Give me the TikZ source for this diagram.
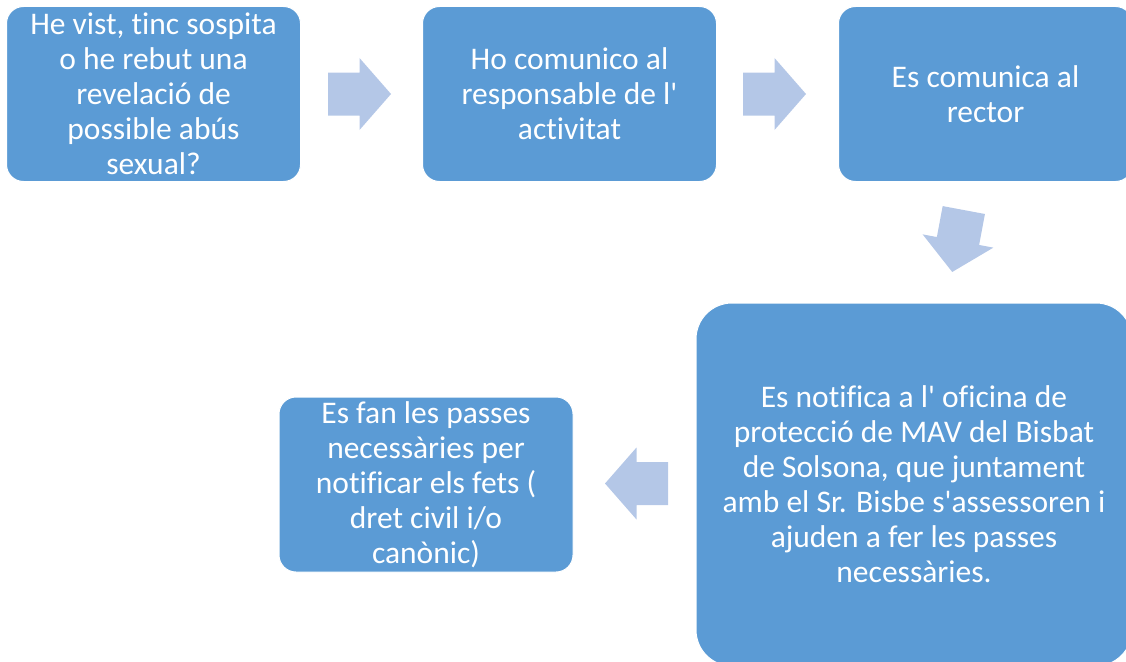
\documentclass[tikz,border=0pt]{standalone}
\usepackage{fontspec}
\setmainfont{Carlito}[Ligatures=NoCommon]
\usetikzlibrary{positioning}
\definecolor{boxblue}{HTML}{5B9BD5}
\definecolor{arrowblue}{HTML}{B4C7E7}

\begin{document}
\begin{tikzpicture}[
  x=1pt, y=1pt,
  font=\fontsize{31.5}{35}\selectfont,
  stepbox/.style={fill=boxblue, draw=white, line width=1pt, text=white, align=center,
    rounded corners=17pt, minimum width=294pt, minimum height=175pt, inner sep=0pt, outer sep=0pt},
  blkarrow/.pic={\fill[arrowblue] (-31.5,21.5) -- (0,21.5) -- (0,36) -- (31.5,0)
    -- (0,-36) -- (0,-21.5) -- (-31.5,-21.5) -- cycle;},
]
\clip (0,0) rectangle (1126,-661);
% top row
\node[stepbox] (seen) at (153.5,-94) {He vist, tinc sospita\\o he rebut una\\revelació de\\possible abús\\sexual?};
\node[stepbox, right=122pt of seen] (report) {Ho comunico al\\responsable de l\textquotesingle\\activitat};
\node[stepbox, right=122pt of report] (rector) {Es comunica al\\rector};
% bottom row
\node[stepbox, minimum width=436pt, minimum height=363pt, rounded corners=36pt] (notify) at (914,-484.5)
  {Es notifica a l\textquotesingle{} oficina de\\protecció de MAV del Bisbat\\de Solsona, que juntament\\amb el Sr. Bisbe s\textquotesingle assessoren i\\ajuden a fer les passes\\necessàries.};
\node[stepbox, left=123pt of notify] (steps) {Es fan les passes\\necessàries per\\notificar els fets (\\dret civil i/o\\canònic)};
% block arrows
\pic at (359.5,-94) {blkarrow};
\pic at (774.5,-94) {blkarrow};
\pic[rotate=-100.6] at (958,-241) {blkarrow};
\pic[rotate=180] at (636.5,-483.5) {blkarrow};
\end{tikzpicture}
\end{document}
